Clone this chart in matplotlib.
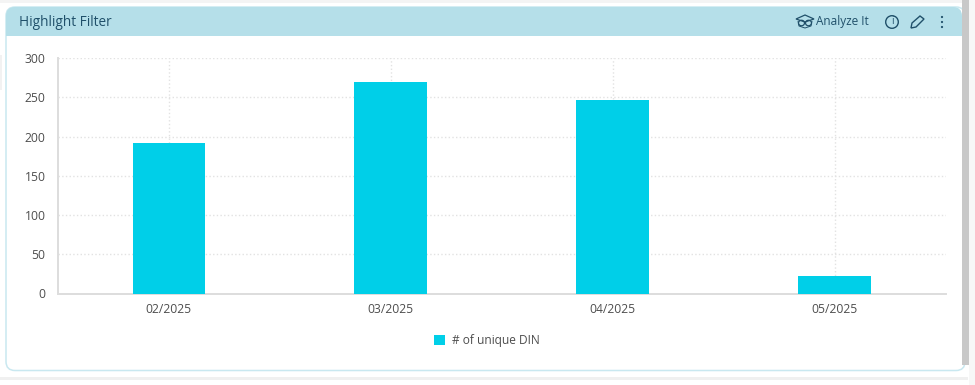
import matplotlib
matplotlib.use("Agg")
import matplotlib.pyplot as plt
from matplotlib.patches import FancyBboxPatch, Rectangle, Circle, Polygon, Ellipse

months = ["02/2025", "03/2025", "04/2025", "05/2025"]
unique_din = [192, 270, 247, 22]
y_ticks = [0, 50, 100, 150, 200, 250, 300]
title = "Highlight Filter"
series_name = "# of unique DIN"

W, H = 975, 385
plt.rcParams["font.family"] = "Open Sans"

fig = plt.figure(figsize=(W / 100, H / 100), dpi=100, facecolor="white")

# pixel overlay for the card
bg = fig.add_axes([0, 0, 1, 1], zorder=0)
bg.set_xlim(0, W)
bg.set_ylim(H, 0)
bg.axis("off")

# page strips around the card
bg.add_patch(Rectangle((0, 0), W, 3, color="#f4f4f4", lw=0))
bg.add_patch(Rectangle((0, 377), 968, 3, color="#f0f0f0", lw=0))
bg.add_patch(Rectangle((0, 55), 2, 35, color="#f2f2f2", lw=0))
bg.add_patch(Rectangle((969, 0), 6, H, color="#f7f7f7", lw=0))

# card
bg.add_patch(FancyBboxPatch((6, 7), 959, 363.5, boxstyle="round,pad=0,rounding_size=9",
                            fc="white", ec="#c9e8f0", lw=1.1))
bg.add_patch(Rectangle((962, 0), 7, 365, color="#c8c8c8", lw=0, zorder=3))

# header
bg.add_patch(FancyBboxPatch((6, 7), 956, 29, boxstyle="round,pad=0,rounding_size=9",
                            fc="#b5dfe9", ec="none"))
bg.add_patch(Rectangle((6, 22), 956, 14, color="#b5dfe9", lw=0))
ink = "#20506a"
bg.text(19, 22, title, fontsize=9.8, color=ink, va="center", ha="left")
bg.text(815.5, 21.5, "Analyze It", fontsize=8.5, color=ink, va="center", ha="left")

# owl icon
bg.add_patch(Polygon([(796, 19), (805, 15), (814, 19), (805, 22)], fc="none", ec=ink, lw=0.9))
bg.add_patch(Ellipse((801.5, 23), 6, 5.5, fc="none", ec=ink, lw=0.9))
bg.add_patch(Ellipse((808.5, 23), 6, 5.5, fc="none", ec=ink, lw=0.9))
bg.add_patch(Polygon([(798, 21), (799, 26), (805, 28), (811, 26), (812, 21)], closed=False,
                     fc="none", ec=ink, lw=0.7))
# info icon
bg.add_patch(Circle((892, 22), 6.3, fc="none", ec=ink, lw=1))
bg.text(892, 22, "i", fontsize=7, color=ink, ha="center", va="center")
# pencil icon
bg.add_patch(Polygon([(911, 28), (912, 23), (920, 16), (924, 19), (916, 27)], fc="none", ec=ink, lw=1))
# menu dots
for dot_y in (17, 22, 27):
    bg.add_patch(Circle((942, dot_y), 1.1, fc=ink, ec="none"))

# chart
left, right, top, bottom = 58, 945.5, 58, 293.5
ax = fig.add_axes([left / W, 1 - bottom / H, (right - left) / W, (bottom - top) / H], zorder=1)
ax.patch.set_alpha(0)

x = range(len(months))
ax.bar(x, unique_din, width=0.328, color="#00cfe8", zorder=3, label=series_name)
ax.set_xlim(-0.5, len(months) - 0.5)
ax.set_ylim(0, 300)
ax.set_xticks(list(x), months)
ax.set_yticks(y_ticks)
ax.grid(True, color="#e2e2e2", linestyle=":", linewidth=1, zorder=0)
ax.tick_params(length=0, labelsize=8.7, labelcolor="#4d4d4d")
ax.tick_params(axis="x", pad=7)
ax.tick_params(axis="y", pad=9)

for side in ("top", "right"):
    ax.spines[side].set_visible(False)
for side in ("left", "bottom"):
    ax.spines[side].set_color("#dddddd")
    ax.spines[side].set_linewidth(1.4)

leg = ax.legend(loc="center", bbox_to_anchor=((487 - left) / (right - left), (top - 340.5) / (bottom - top) + 1),
                frameon=False, fontsize=8.6, handlelength=0.95, handleheight=0.95, handletextpad=0.6)
for text in leg.get_texts():
    text.set_color("#4d4d4d")

fig.savefig("out.png", dpi=100)
